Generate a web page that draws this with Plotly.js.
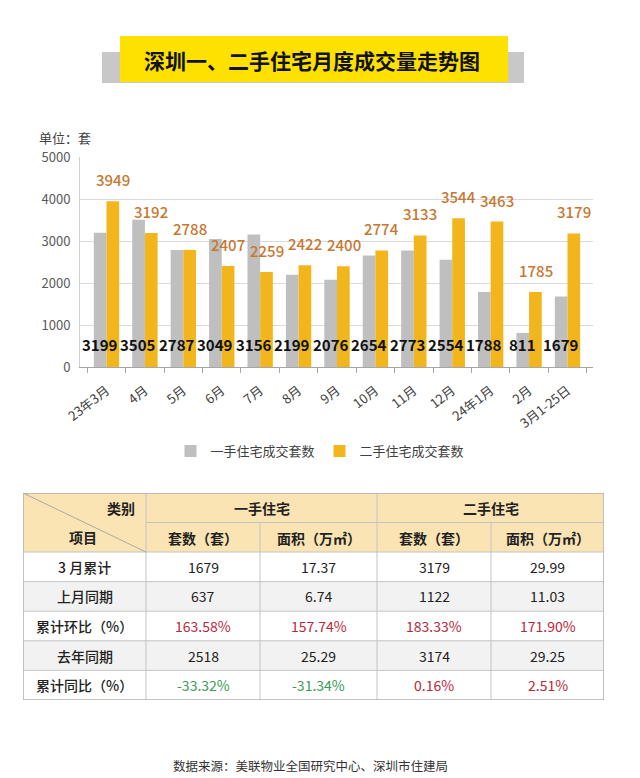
<!DOCTYPE html>
<html>
<head>
<meta charset="utf-8">
<script src="https://cdn.plot.ly/plotly-3.0.1.min.js"></script>
<style>html,body{margin:0;padding:0;background:#fff;}#chart{width:640px;height:778px;}</style>
</head>
<body>
<div id="chart"></div>
<script>
// ---- chart data ----
const months = ['23年3月','4月','5月','6月','7月','8月','9月','10月','11月','12月','24年1月','2月','3月1-25日'];
const newHomeSales = [3199,3505,2787,3049,3156,2199,2076,2654,2773,2554,1788,811,1679];
const resaleSales = [3949,3192,2788,2407,2259,2422,2400,2774,3133,3544,3463,1785,3179];
const seriesNames = ['一手住宅成交套数','二手住宅成交套数'];

// ---- table data ----
const tableRowLabels = ['3 月累计','上月同期','累计环比（%）','去年同期','累计同比（%）'];
const newCount = ['1679','637','163.58%','2518','-33.32%'];
const newArea = ['17.37','6.74','157.74%','25.29','-31.34%'];
const resaleCount = ['3179','1122','183.33%','3174','0.16%'];
const resaleArea = ['29.99','11.03','171.90%','29.25','2.51%'];
const groupHeaders = ['一手住宅','二手住宅'];
const subHeaders = ['套数（套）','面积（万㎡）','套数（套）','面积（万㎡）'];

const FONT = '"Noto Sans CJK SC","Noto Sans",sans-serif';
const W = 640, H = 778;
const px = x => x / W;
const py = y => 1 - y / H;

const traces = [
  {type:'bar', x: months, y: newHomeSales, name: seriesNames[0], marker:{color:'#BFBFBF'}, hoverinfo:'none'},
  {type:'bar', x: months, y: resaleSales, name: seriesNames[1], marker:{color:'#F2B51C'}, hoverinfo:'none'}
];

const annotations = [];
const shapes = [];

// bar labels
months.forEach((m, i) => {
  annotations.push({x: m, y: 0, xref:'x', yref:'y', text: String(newHomeSales[i]), showarrow:false,
    xshift:-6.5, yshift:10, yanchor:'bottom', font:{family:FONT, size:15, color:'#111', weight:600}});
  annotations.push({x: m, y: resaleSales[i], xref:'x', yref:'y', text: String(resaleSales[i]), showarrow:false,
    xshift:6.5, yshift:9, yanchor:'bottom', font:{family:FONT, size:15, color:'#C67832', weight:500}});
});

// title box
shapes.push({type:'rect', xref:'paper', yref:'paper', x0:px(102), x1:px(524), y0:py(52), y1:py(83), fillcolor:'#C8C8C8', line:{width:0}, layer:'below'});
shapes.push({type:'rect', xref:'paper', yref:'paper', x0:px(120), x1:px(508), y0:py(36), y1:py(82), fillcolor:'#FFE100', line:{width:0}, layer:'below'});
annotations.push({xref:'paper', yref:'paper', x:px(312), y:py(60), text:'深圳一、二手住宅月度成交量走势图', showarrow:false,
  font:{family:FONT, size:21, color:'#111', weight:700}, xanchor:'center', yanchor:'middle'});

// unit label
annotations.push({xref:'paper', yref:'paper', x:px(37), y:py(138), text:'单位：套', showarrow:false, xanchor:'left', yanchor:'middle',
  font:{family:FONT, size:13, color:'#404040'}});

// footer
annotations.push({xref:'paper', yref:'paper', x:px(310), y:py(765), text:'数据来源：美联物业全国研究中心、深圳市住建局', showarrow:false,
  xanchor:'center', yanchor:'middle', font:{family:FONT, size:12.5, color:'#333'}});

// ---- table built on axis pair x2/y2 (units: pixels within table) ----
const colEdges = [0,123,237,354,468,581];
const headerH = 59;
const rowH = 29.6;
const tableH = headerH + rowH * tableRowLabels.length;
const gridC = '#C4C4C4';
const lineS = (x0,y0,x1,y1,c,w) => ({type:'line', xref:'x2', yref:'y2', x0, y0, x1, y1, line:{color:c||gridC, width:w||1}});

shapes.push({type:'rect', xref:'x2', yref:'y2', x0:0, x1:581, y0:0, y1:headerH, fillcolor:'#FAE4B3', line:{width:0}, layer:'below'});
tableRowLabels.forEach((r, i) => {
  shapes.push({type:'rect', xref:'x2', yref:'y2', x0:0, x1:581, y0:headerH + i*rowH, y1:headerH + (i+1)*rowH,
    fillcolor: i % 2 ? '#F2F2F2' : '#FFFFFF', line:{width:0}, layer:'below'});
});
// header lines
shapes.push(lineS(colEdges[1], 29.5, 581, 29.5));
shapes.push(lineS(0, headerH, 581, headerH));
shapes.push(lineS(colEdges[1], 0, colEdges[1], tableH));
shapes.push(lineS(colEdges[3], 0, colEdges[3], tableH));
shapes.push(lineS(colEdges[2], 29.5, colEdges[2], tableH));
shapes.push(lineS(colEdges[4], 29.5, colEdges[4], tableH));
for (let i = 1; i < tableRowLabels.length; i++) shapes.push(lineS(0, headerH + i*rowH, 581, headerH + i*rowH));
shapes.push(lineS(0, 0, colEdges[1], headerH, '#A8A8A8', 1));
shapes.push({type:'rect', xref:'x2', yref:'y2', x0:0, x1:581, y0:0, y1:tableH, line:{color:'#B0B0B0', width:1.5}, fillcolor:'rgba(0,0,0,0)'});

const tcell = (x, y, text, opts) => Object.assign({xref:'x2', yref:'y2', x, y, text, showarrow:false, xanchor:'center', yanchor:'middle',
  font:{family:FONT, size:14, color:'#222'}}, opts || {});
annotations.push(tcell(114, 15, '类别', {xanchor:'right', font:{family:FONT, size:14, color:'#222', weight:700}}));
annotations.push(tcell(60, 44, '项目', {font:{family:FONT, size:14, color:'#222', weight:700}}));
groupHeaders.forEach((g, k) => {
  annotations.push(tcell((colEdges[1+2*k] + colEdges[3+2*k]) / 2, 15, g, {font:{family:FONT, size:14, color:'#222', weight:700}}));
});
subHeaders.forEach((s, k) => {
  annotations.push(tcell((colEdges[1+k] + colEdges[2+k]) / 2, 44.5, s, {font:{family:FONT, size:14, color:'#222', weight:700}}));
});
const cols = [newCount, newArea, resaleCount, resaleArea];
const valColor = v => v.indexOf('%') < 0 ? '#222' : (v.charAt(0) === '-' ? '#3A9A5A' : '#B8283C');
tableRowLabels.forEach((r, i) => {
  const yc = headerH + (i + 0.5) * rowH;
  annotations.push(tcell(61.5, yc, r, {font:{family:FONT, size:14, color:'#222', weight:500}}));
  cols.forEach((c, k) => {
    annotations.push(tcell((colEdges[1+k] + colEdges[2+k]) / 2, yc, c[i], {font:{family:FONT, size:14, color:valColor(c[i])}}));
  });
});

const layout = {
  width: W, height: H,
  margin: {l:0, r:0, t:0, b:0},
  paper_bgcolor:'#fff', plot_bgcolor:'#fff',
  showlegend: true,
  barmode:'group', bargap:0.34, bargroupgap:0,
  font:{family:FONT},
  xaxis: {domain:[px(80), px(593)], type:'category', anchor:'y', showline:true, linecolor:'#A6A6A6', linewidth:1,
    ticks:'outside', tickson:'boundaries', ticklen:5, tickcolor:'#A6A6A6', showgrid:false, tickangle:-38,
    tickfont:{family:FONT, size:13, color:'#404040'}, ticklabelstandoff:10, fixedrange:true},
  yaxis: {domain:[py(367), py(157)], range:[0,5000], dtick:1000, anchor:'x', showgrid:true, gridcolor:'#DADADA',
    showline:true, linecolor:'#D0D0D0', zeroline:false, ticks:'', tickfont:{family:FONT, size:13, color:'#595959'},
    ticklabelstandoff:6, fixedrange:true},
  xaxis2: {domain:[px(23), px(604)], range:[0,581], anchor:'y2', visible:false, fixedrange:true},
  yaxis2: {domain:[py(700), py(493)], range:[207,0], anchor:'x2', visible:false, fixedrange:true},
  legend: {orientation:'h', x:0.5, xanchor:'center', y:py(451), yanchor:'middle', font:{family:FONT, size:13, color:'#404040'},
    itemwidth:30, tracegroupgap:0},
  shapes, annotations
};

Plotly.newPlot('chart', traces, layout, {displayModeBar:false, staticPlot:true});
</script>
</body>
</html>
